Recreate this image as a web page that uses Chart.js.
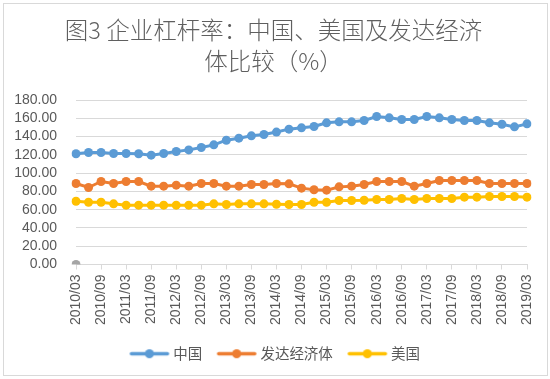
<!DOCTYPE html>
<html>
<head>
<meta charset="utf-8">
<script src="https://cdn.jsdelivr.net/npm/chart.js@4/dist/chart.umd.min.js"></script>
<style>
html,body{margin:0;padding:0;background:#fff;}
#wrap{position:relative;width:550px;height:379px;}
</style>
</head>
<body>
<div id="wrap"><canvas id="c" width="550" height="379"></canvas></div>
<script>
const categories = ["2010/03","2010/06","2010/09","2010/12","2011/03","2011/06","2011/09","2011/12",
"2012/03","2012/06","2012/09","2012/12","2013/03","2013/06","2013/09","2013/12",
"2014/03","2014/06","2014/09","2014/12","2015/03","2015/06","2015/09","2015/12",
"2016/03","2016/06","2016/09","2016/12","2017/03","2017/06","2017/09","2017/12",
"2018/03","2018/06","2018/09","2018/12","2019/03"];
const china = [121.2,122.6,122.6,121.5,121.5,121.2,119.7,121.5,123.7,125.5,128.1,131.0,136.1,138.3,140.9,142.3,
145.0,148.2,149.6,151.1,155.1,156.2,156.2,157.7,162.0,160.6,158.8,158.8,162.0,160.6,158.8,157.7,157.7,155.1,153.6,150.7,154.0];
const developed = [88.7,84.3,90.9,88.7,90.9,90.9,85.8,85.8,86.9,85.8,88.7,88.7,85.8,85.8,87.6,87.6,
88.7,88.3,83.6,81.8,81.4,85.0,85.8,87.6,90.9,90.9,90.9,85.8,88.7,92.0,92.0,92.0,92.0,88.7,88.7,88.7,88.7];
const usa = [69.3,68.2,68.2,66.4,65.0,65.0,65.0,65.0,65.0,65.0,65.0,66.4,65.7,66.4,66.4,66.4,
66.0,65.7,65.7,68.2,68.2,70.1,70.1,70.4,71.2,71.2,72.3,71.2,72.3,72.3,72.3,73.7,73.7,74.5,74.5,74.5,73.7];
const extra = [0];
const seriesNames = ["中国","发达经济体","美国"];
const yTicks = [0,20,40,60,80,100,120,140,160,180];

const colors = ['#5b9bd5','#ed7d31','#ffc000','#a5a5a5'];
function legendMark(color){
  const cv = document.createElement('canvas');
  cv.width = 42; cv.height = 11;
  const g = cv.getContext('2d');
  g.strokeStyle = color; g.lineWidth = 3.5; g.lineCap='round';
  g.beginPath(); g.moveTo(3,5.5); g.lineTo(39,5.5); g.stroke();
  g.fillStyle = color; g.beginPath(); g.arc(21,5.5,4.5,0,Math.PI*2); g.fill();
  return cv;
}
const marks = colors.map(legendMark);

const framePlugin = {
  id:'frame',
  afterLayout(chart){
    if (chart.legend){ chart.legend.left += 13; chart.legend.right += 13; }
    if (chart.titleBlock){ chart.titleBlock.left += 10; chart.titleBlock.right += 10; }
  },
  beforeDraw(chart){
    const ctx = chart.ctx;
    ctx.save();
    ctx.fillStyle='#fff'; ctx.fillRect(0,0,chart.width,chart.height);
    ctx.strokeStyle='#d9d9d9'; ctx.lineWidth=1;
    ctx.strokeRect(3.5,3.5,544,372);
    ctx.restore();
  }
};

function ds(label, data, color){
  return {label, data, borderColor:color, backgroundColor:color, borderWidth:3,
    pointRadius:4.5, pointHoverRadius:4.5, pointBorderWidth:0, pointBackgroundColor:color, tension:0, fill:false};
}

new Chart(document.getElementById('c'), {
  type:'line',
  data:{
    labels:categories,
    datasets:[
      ds(seriesNames[0], china, colors[0]),
      ds(seriesNames[1], developed, colors[1]),
      ds(seriesNames[2], usa, colors[2]),
      ds('', extra, colors[3])
    ]
  },
  options:{
    responsive:false, animation:false,
    layout:{padding:{left:0,right:23,top:0,bottom:8}},
    plugins:{
      title:{display:true, text:['图3 企业杠杆率：中国、美国及发达经济','体比较（%）'],
        color:'#5f5f5f', font:{family:'Noto Sans CJK SC', size:23.5, weight:300, lineHeight:1.3},
        padding:{top:15,bottom:24}},
      legend:{position:'bottom',
        labels:{usePointStyle:true, pointStyleWidth:33, boxHeight:11, padding:18, color:'#595959',
          font:{family:'Noto Sans CJK SC', size:14.5},
          generateLabels(chart){
            return chart.data.datasets.slice(0,3).map((d,i)=>({
              text:d.label, fillStyle:colors[i], strokeStyle:colors[i], lineWidth:0,
              pointStyle:marks[i], datasetIndex:i, hidden:false, fontColor:'#595959'}));
          }}},
      tooltip:{enabled:false}
    },
    scales:{
      x:{type:'category', offset:false,
        grid:{display:true, drawOnChartArea:false, drawTicks:true, tickLength:5,
          tickColor:c=> (c.index%2===0)?'#d9d9d9':'rgba(0,0,0,0)'},
        border:{display:true, color:'#d9d9d9'},
        ticks:{autoSkip:false, maxRotation:90, minRotation:90, padding:5, color:'#595959',
          font:{family:'Liberation Sans', size:14},
          callback:(v,i)=> i%2===0 ? categories[i] : ''},
        afterFit:s=>{s.height=64;}
      },
      y:{min:0, max:180,
        afterBuildTicks:s=>{s.ticks = yTicks.map(v=>({value:v}));},
        grid:{color:'#d9d9d9', drawTicks:false},
        border:{display:false},
        ticks:{autoSkip:false, padding:19, color:'#595959', font:{family:'Liberation Sans', size:14},
          callback:v=>Number(v).toFixed(2)},
        afterFit:s=>{s.width=76;}
      }
    }
  },
  plugins:[framePlugin]
});
</script>
</body>
</html>
